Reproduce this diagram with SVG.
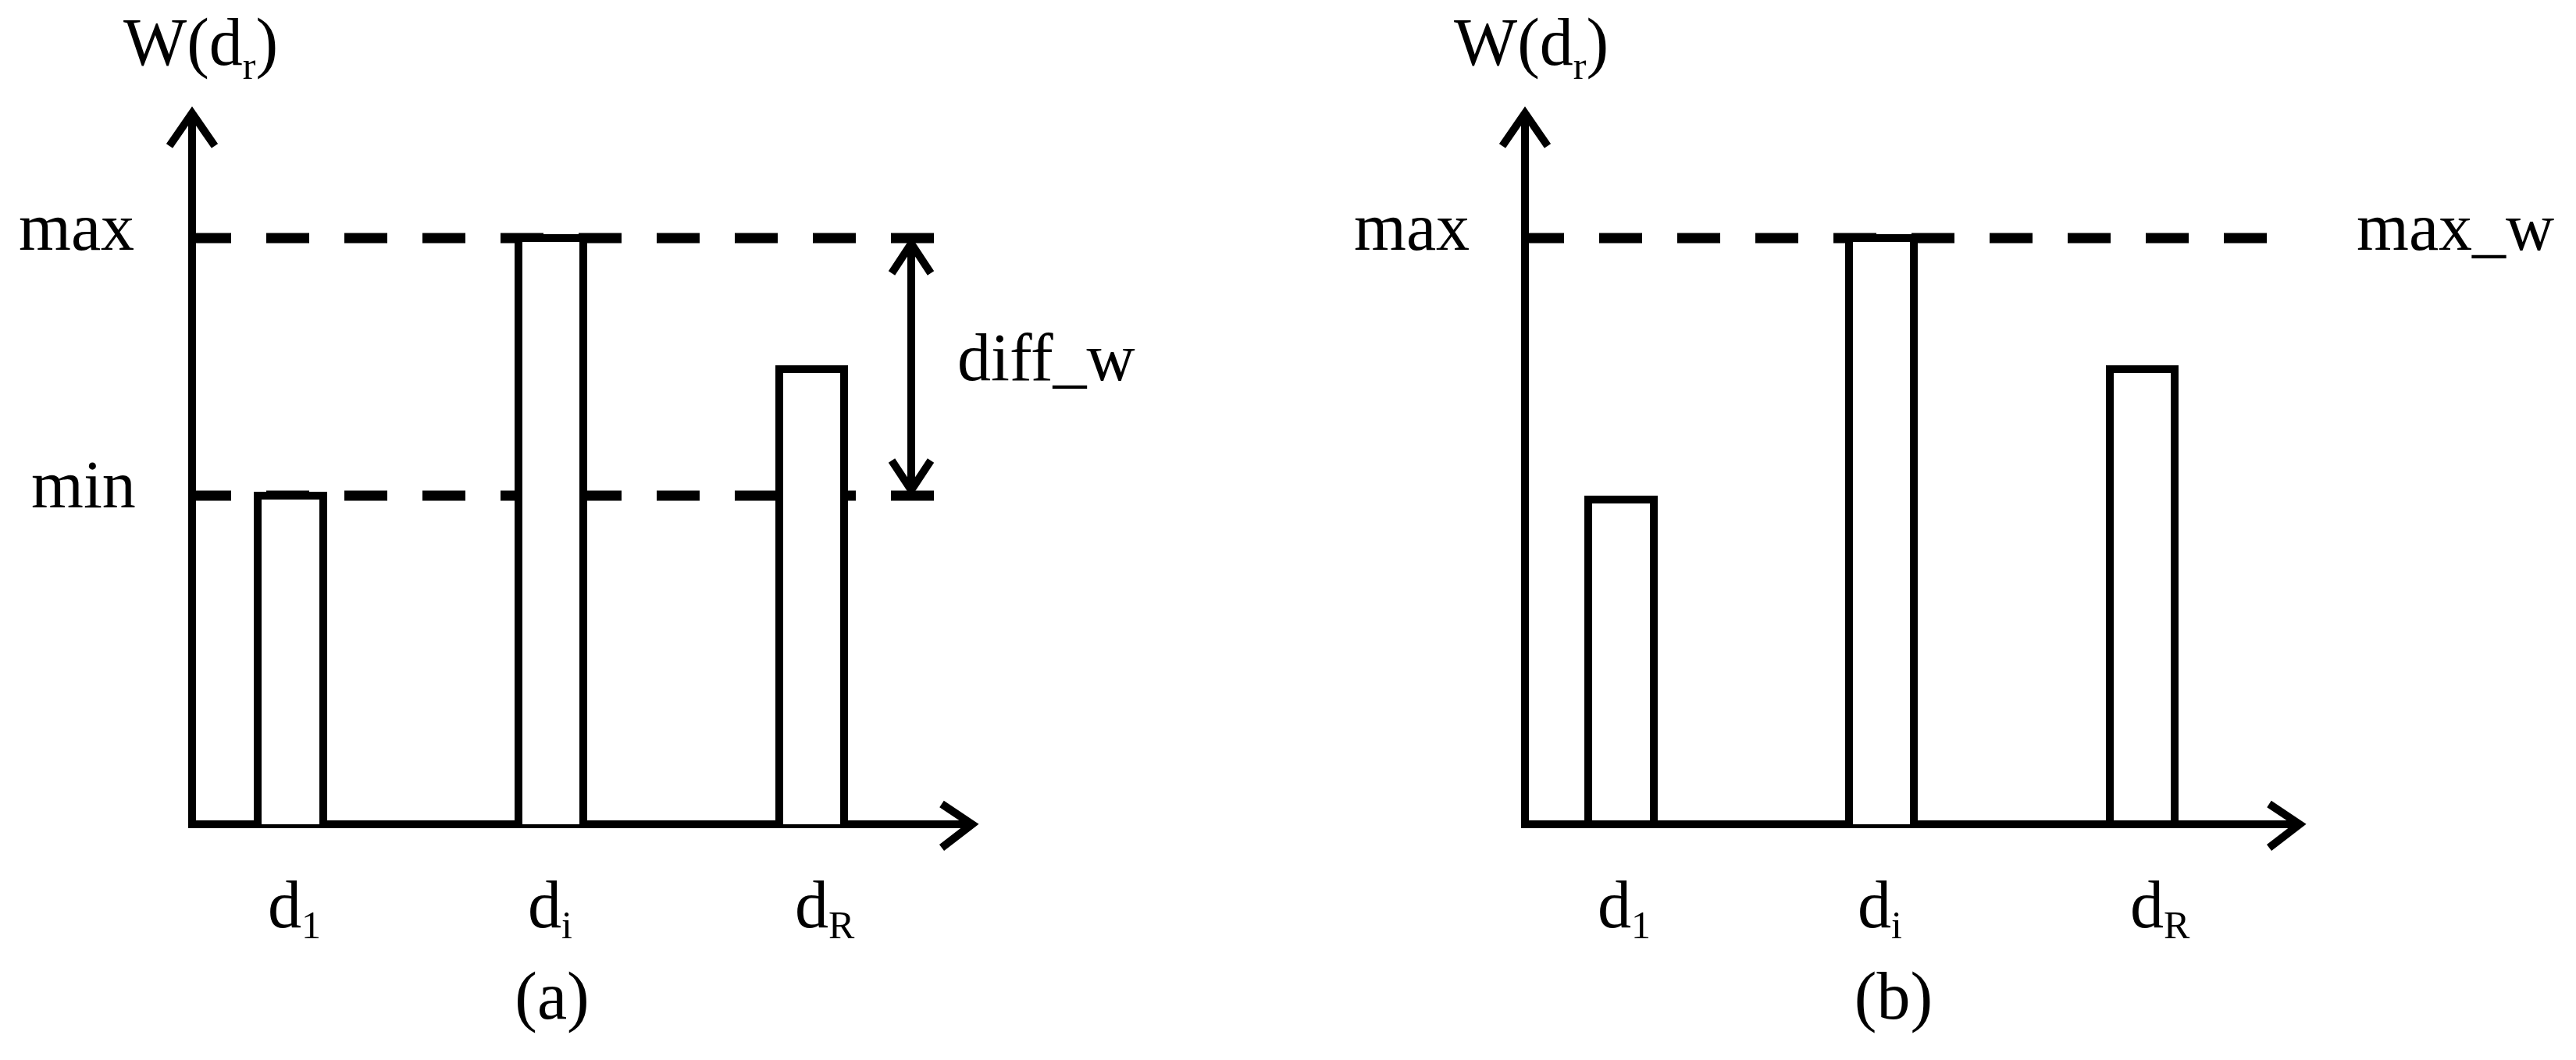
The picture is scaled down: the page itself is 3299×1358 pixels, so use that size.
<svg xmlns="http://www.w3.org/2000/svg" width="3299" height="1358" viewBox="0 0 3299 1358">
<style>
.ax{stroke:#000;stroke-width:10;fill:none;stroke-linecap:butt}
.bar{stroke:#000;stroke-width:10;fill:#fff}
.ds{stroke:#000;stroke-width:13;stroke-dasharray:55 45;fill:none}
.t{font-family:"Liberation Serif",serif;font-size:86px;fill:#000}
.s{font-family:"Liberation Serif",serif;font-size:50px;fill:#000}
</style>
<rect width="3299" height="1358" fill="#fff"/>
<g id="chart-a">
<g id="connectors-a">
<path class="ds" d="M241 305H1214"/>
<path class="ds" d="M241 635H1214"/>
<path class="ax" d="M246 1056V145M217 187L246 145L275 187"/>
<path class="ax" d="M241 1056H1245M1206 1030L1245 1056L1206 1086"/>
<path class="ax" d="M1167 312V628M1142 350L1167 312L1192 350M1142 590L1167 628L1192 590"/>
</g>
<g id="a-bar1"><path class="bar" d="M330 1056V635H414V1056"/></g>
<g id="a-bari"><path class="bar" d="M664 1056V305H747V1056"/></g>
<g id="a-barR"><path class="bar" d="M998 1056V473H1081V1056"/></g>
<text class="t" x="158" y="83">W(d<tspan class="s" dy="18">r</tspan><tspan dy="-18">)</tspan></text>
<text class="t" x="24" y="320">max</text>
<text class="t" x="40" y="650">min</text>
<text class="t" x="1226" y="487">diff_w</text>
<text class="t" x="343" y="1188">d<tspan class="s" dy="14">1</tspan></text>
<text class="t" x="676" y="1188">d<tspan class="s" dy="14">i</tspan></text>
<text class="t" x="1018" y="1188">d<tspan class="s" dy="14">R</tspan></text>
<text class="t" x="707" y="1305" text-anchor="middle">(a)</text>
</g>
<g id="chart-b">
<g id="connectors-b">
<path class="ds" d="M1948 305H2930"/>
<path class="ax" d="M1953 1056V145M1924 187L1953 145L1982 187"/>
<path class="ax" d="M1948 1056H2945M2906 1030L2945 1056L2906 1086"/>
</g>
<g id="b-bar1"><path class="bar" d="M2034 1056V640H2118V1056Z"/></g>
<g id="b-bari"><path class="bar" d="M2368 1056V305H2451V1056"/></g>
<g id="b-barR"><path class="bar" d="M2702 1056V473H2785V1056Z"/></g>
<text class="t" x="1862" y="83">W(d<tspan class="s" dy="18">r</tspan><tspan dy="-18">)</tspan></text>
<text class="t" x="1734" y="320">max</text>
<text class="t" x="3018" y="320">max_w</text>
<text class="t" x="2046" y="1188">d<tspan class="s" dy="14">1</tspan></text>
<text class="t" x="2379" y="1188">d<tspan class="s" dy="14">i</tspan></text>
<text class="t" x="2728" y="1188">d<tspan class="s" dy="14">R</tspan></text>
<text class="t" x="2425" y="1305" text-anchor="middle">(b)</text>
</g>
</svg>
